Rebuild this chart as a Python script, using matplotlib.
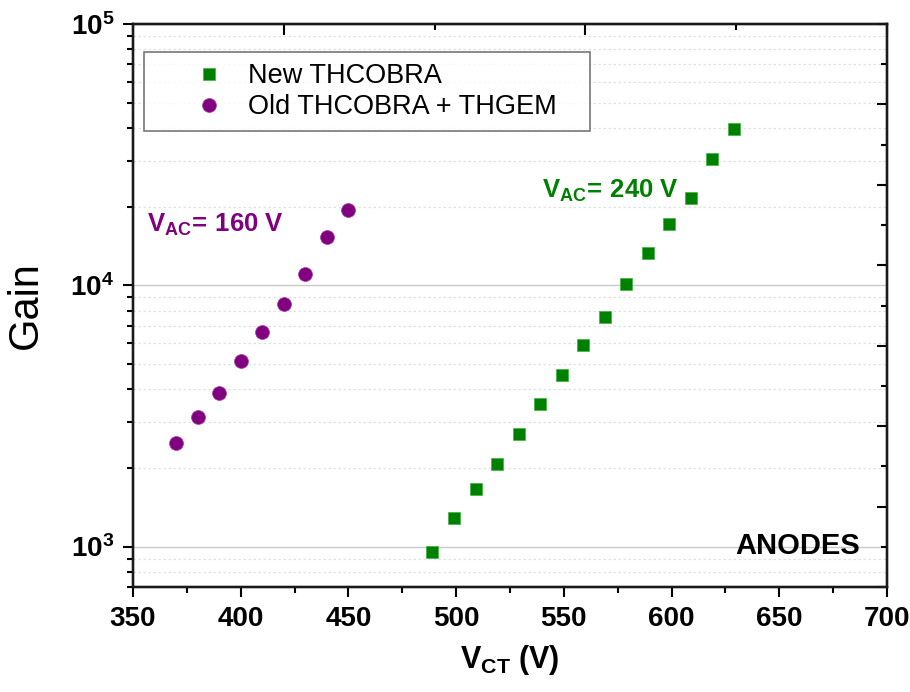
import numpy as np
import matplotlib
matplotlib.use("Agg")
import matplotlib.pyplot as plt
from matplotlib.ticker import FixedLocator, MultipleLocator, NullFormatter, FuncFormatter

plt.rcParams["font.family"] = ["Liberation Sans", "DejaVu Sans"]
plt.rcParams["mathtext.fontset"] = "custom"
plt.rcParams["mathtext.rm"] = "Liberation Sans"
plt.rcParams["mathtext.bf"] = "Liberation Sans:bold"
plt.rcParams["mathtext.it"] = "Liberation Sans:italic"

# New THCOBRA (V_AC = 240 V)
new_vct = [489, 499, 509, 519, 529, 539, 549, 559, 569, 579, 589, 599, 609, 619, 629]
new_gain = [954, 1289, 1665, 2078, 2707, 3499, 4521, 5894, 7551, 10107,
            13292, 17180, 21610, 30510, 39790]

# Old THCOBRA + THGEM (V_AC = 160 V)
old_vct = [370, 380, 390, 400, 410, 420, 430, 440, 450]
old_gain = [2494, 3128, 3867, 5132, 6630, 8470, 11040, 15275, 19390]

green = "#008000"
purple = "#800080"

fig = plt.figure(figsize=(9.1, 6.92), dpi=100)
ax = fig.add_axes([0.1462, 0.1517, 0.8285, 0.8136])

ax.set_yscale("log")
ax.set_xlim(350, 700)
ax.set_ylim(700, 1e5)

ax.grid(True, which="major", axis="y", color="#c8c8c8", lw=1.0, ls="-")
ax.grid(True, which="minor", axis="y", color="#e0e0e0", lw=0.9, ls=(0, (2, 2)))
ax.set_axisbelow(True)

ax.plot(new_vct, new_gain, ls="none", marker="s", ms=9.2, color=green,
        mec="#3cb43c", mew=0.5, label="New THCOBRA")
ax.plot(old_vct, old_gain, ls="none", marker="o", ms=10, color=purple,
        mec="#a040a0", mew=0.5, label="Old THCOBRA + THGEM")

# axes ticks
ax.xaxis.set_major_locator(MultipleLocator(50))
ax.xaxis.set_minor_locator(MultipleLocator(25))
ax.tick_params(axis="both", which="major", direction="out", length=7.5, width=1.5,
               labelsize=20, pad=6)
ax.tick_params(axis="both", which="minor", direction="out", length=4.3, width=1.5)
ax.tick_params(axis="x", which="both", top=False)
ax.tick_params(axis="y", which="both", right=False)
ax.yaxis.set_major_formatter(FuncFormatter(
    lambda v, p: r"$\mathbf{10^{%d}}$" % int(round(np.log10(v)))))
ax.yaxis.set_minor_formatter(NullFormatter())
for lab in ax.get_xticklabels():
    lab.set_fontweight("bold")

for s in ax.spines.values():
    s.set_linewidth(1.6)
    s.set_color("#1a1a1a")

# top and right decorative tick axes
axt = ax.twiny()
axt.set_xlim(0, 1)
axt.xaxis.set_major_locator(FixedLocator([0.2, 0.6, 1.0]))
axt.xaxis.set_minor_locator(FixedLocator([0.0, 0.4, 0.8]))
axt.tick_params(axis="x", which="major", direction="in", length=8, width=1.5,
                labeltop=False)
axt.tick_params(axis="x", which="minor", direction="in", length=4, width=1.5)
axr = ax.twinx()
axr.set_ylim(0, 14)
axr.yaxis.set_major_locator(FixedLocator(list(range(0, 15, 2))))
axr.yaxis.set_minor_locator(FixedLocator(list(range(1, 14, 2))))
axr.tick_params(axis="y", which="major", direction="in", length=7, width=1.5,
                labelright=False)
axr.tick_params(axis="y", which="minor", direction="in", length=4, width=1.5)
for a in (axt, axr):
    for s in a.spines.values():
        s.set_linewidth(1.6)
        s.set_color("#1a1a1a")

ax.set_ylabel("Gain", fontsize=30, labelpad=18)
ax.set_xlabel(r"$\mathbf{V_{CT}}$$\mathbf{\ (V)}$", fontsize=22, labelpad=8)

ax.text(356.5, 16000, r"$\mathbf{V_{AC}}$$\mathbf{\!=\,160\ V}$", color=purple,
        fontsize=18.5, va="baseline", ha="left")
ax.text(539.7, 21570, r"$\mathbf{V_{AC}}$$\mathbf{\!=\,240\ V}$", color=green,
        fontsize=18.5, va="baseline", ha="left")
ax.text(687.5, 937, "ANODES", fontsize=21, fontweight="bold", ha="right",
        va="baseline")

leg = ax.legend(loc="upper left", bbox_to_anchor=(0.0146, 0.81, 0.591, 0.14),
                mode="expand", fontsize=19.5, frameon=True, fancybox=False,
                edgecolor="#555555", borderpad=0.4, handletextpad=-0.55,
                labelspacing=0.2, borderaxespad=0, handlelength=4.0)
leg.get_frame().set_linewidth(1.2)
leg.set_zorder(5)

fig.savefig("out.png", dpi=100)
